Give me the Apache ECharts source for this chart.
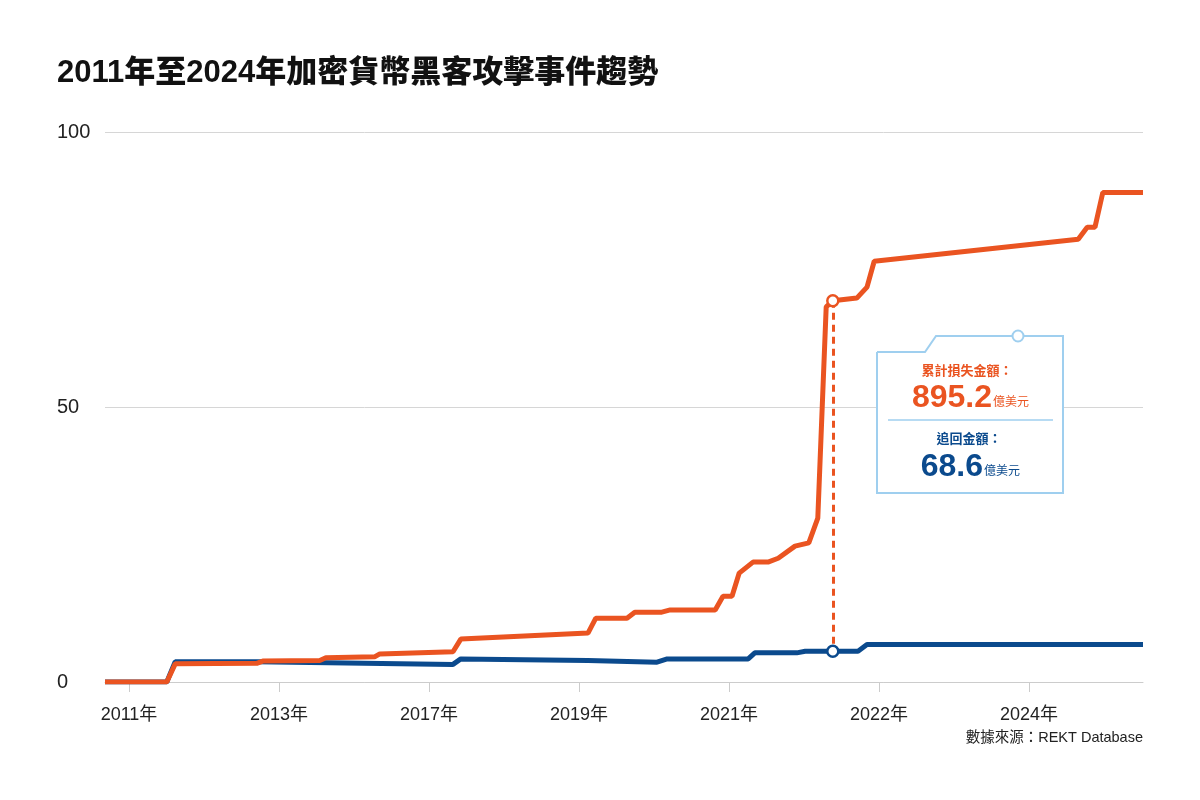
<!DOCTYPE html>
<html>
<head>
<meta charset="utf-8">
<script src="https://cdn.jsdelivr.net/npm/echarts@6/dist/echarts.min.js"></script>
<style>
html,body{margin:0;padding:0;background:#fff;}
#chart{width:1200px;height:800px;}
</style>
</head>
<body>
<div id="chart"></div>
<script>
// Event index axis (cumulative hacking events), tick labels placed at event positions
const tickPositions = [4, 29, 54, 79, 104, 129, 154];
const tickLabels = ['2011年', '2013年', '2017年', '2019年', '2021年', '2022年', '2024年'];

// Cumulative stolen amount (十億美元) at [event index, value]
const lossIndex = [0, 10.3, 11.7, 25.3, 26.3, 35.8, 36.8, 45, 45.8, 58, 59.3, 80.5, 81.8, 87, 88.3, 92.8, 94.2, 101.7, 103, 104.5, 105.7, 108, 110.5, 112.2, 115, 117.3, 118.8, 120.2, 121.3, 125.3, 127, 128.2, 162.2, 163.7, 165, 166.3, 173];
const lossValues = [0, 0, 3.3, 3.4, 3.8, 3.9, 4.4, 4.6, 5.1, 5.5, 7.8, 8.9, 11.6, 11.6, 12.7, 12.7, 13.1, 13.1, 15.6, 15.6, 19.8, 21.8, 21.8, 22.5, 24.7, 25.3, 29.8, 68.2, 69.3, 69.8, 71.8, 76.5, 80.5, 82.7, 82.7, 89, 89];

// Cumulative recovered amount (十億美元)
const recIndex = [0, 10.3, 11.7, 25.3, 58, 59.3, 80.5, 92, 93.7, 107.2, 108.3, 115.3, 116.7, 125.5, 127, 173];
const recValues = [0, 0, 3.7, 3.7, 3.2, 4.2, 3.9, 3.6, 4.2, 4.2, 5.3, 5.3, 5.6, 5.6, 6.8, 6.8];

// Highlighted point
const highlightIndex = 121.3;
const highlightLoss = 69.3;
const highlightRec = 5.6;

// Annotation texts
const totalLossText = '895.2';
const totalRecText = '68.6';

const ORANGE = '#EA5421';
const BLUE = '#0B4A8D';
const LIGHT = '#9FCFEF';
const FONT = "'Liberation Sans', 'Noto Sans CJK TC', sans-serif";

const lossData = lossIndex.map((x, i) => [x, lossValues[i]]);
const recData = recIndex.map((x, i) => [x, recValues[i]]);

const chart = echarts.init(document.getElementById('chart'));
chart.setOption({
  animation: false,
  backgroundColor: '#fff',
  grid: { left: 105, right: 57, top: 132, bottom: 118 },
  xAxis: {
    type: 'value',
    min: 0,
    max: 173,
    splitLine: { show: false },
    axisLine: { show: true, lineStyle: { color: '#cccccc', width: 1 } },
    axisTick: { show: true, customValues: tickPositions, length: 10, lineStyle: { color: '#cccccc' } },
    axisLabel: {
      customValues: tickPositions,
      formatter: v => tickLabels[tickPositions.indexOf(v)] || '',
      fontSize: 18,
      color: '#222',
      margin: 24,
      fontFamily: FONT
    }
  },
  yAxis: {
    type: 'value',
    min: 0,
    max: 100,
    interval: 50,
    axisLine: { show: false },
    axisTick: { show: false },
    splitLine: { lineStyle: { color: '#d6d6d6', width: 1 } },
    axisLabel: { fontSize: 20, color: '#222', align: 'left', margin: 48, fontFamily: FONT }
  },
  series: [
    {
      name: '追回金額',
      type: 'line',
      data: recData,
      showSymbol: false,
      silent: true,
      lineStyle: { color: BLUE, width: 5 },
      z: 2
    },
    {
      name: '累計損失金額',
      type: 'line',
      data: lossData,
      showSymbol: false,
      silent: true,
      lineStyle: { color: ORANGE, width: 5 },
      z: 3,
      markLine: {
        silent: true,
        symbol: 'none',
        lineStyle: { color: ORANGE, width: 3, type: [7, 5] },
        label: { show: false },
        data: [[{ coord: [highlightIndex, highlightLoss] }, { coord: [highlightIndex, highlightRec] }]]
      }
    },
    {
      type: 'scatter',
      silent: true,
      data: [[highlightIndex, highlightLoss]],
      symbolSize: 11,
      itemStyle: { color: '#ffffff', borderColor: ORANGE, borderWidth: 2.5, opacity: 1 },
      z: 5
    },
    {
      type: 'scatter',
      silent: true,
      data: [[highlightIndex, highlightRec]],
      symbolSize: 11,
      itemStyle: { color: '#ffffff', borderColor: BLUE, borderWidth: 2.5, opacity: 1 },
      z: 5
    }
  ],
  graphic: [
    {
      type: 'text', left: 57, top: 58,
      style: { text: '2011年至2024年加密貨幣黑客攻擊事件趨勢', fontSize: 31, fontWeight: 900, fill: '#111', fontFamily: FONT }
    },
    {
      type: 'text', right: 57, top: 731,
      style: { text: '數據來源：REKT Database', fontSize: 14.5, fill: '#222', fontFamily: FONT }
    },
    {
      type: 'polyline', z: 10,
      shape: { points: [[877, 352], [925, 352], [936, 336], [1063, 336], [1063, 493], [877, 493], [877, 352]] },
      style: { stroke: LIGHT, lineWidth: 2, fill: '#fff' }
    },
    {
      type: 'circle', z: 11,
      shape: { cx: 1018, cy: 336, r: 5.5 },
      style: { stroke: LIGHT, lineWidth: 2, fill: '#fff' }
    },
    {
      type: 'line', z: 11,
      shape: { x1: 888, y1: 420, x2: 1053, y2: 420 },
      style: { stroke: LIGHT, lineWidth: 1.5 }
    },
    {
      type: 'text', z: 11, x: 967, y: 371,
      style: { text: '累計損失金額：', fontSize: 13, fontWeight: 'bold', fill: ORANGE, align: 'center', verticalAlign: 'middle', fontFamily: FONT }
    },
    {
      type: 'text', z: 11, x: 992, y: 398,
      style: { text: totalLossText, fontSize: 32, fontWeight: 'bold', fill: ORANGE, align: 'right', verticalAlign: 'middle', fontFamily: FONT }
    },
    {
      type: 'text', z: 11, x: 993, y: 403,
      style: { text: '億美元', fontSize: 12, fill: ORANGE, align: 'left', verticalAlign: 'middle', fontFamily: FONT }
    },
    {
      type: 'text', z: 11, x: 969, y: 439,
      style: { text: '追回金額：', fontSize: 13, fontWeight: 'bold', fill: BLUE, align: 'center', verticalAlign: 'middle', fontFamily: FONT }
    },
    {
      type: 'text', z: 11, x: 983, y: 467,
      style: { text: totalRecText, fontSize: 32, fontWeight: 'bold', fill: BLUE, align: 'right', verticalAlign: 'middle', fontFamily: FONT }
    },
    {
      type: 'text', z: 11, x: 984, y: 472,
      style: { text: '億美元', fontSize: 12, fill: BLUE, align: 'left', verticalAlign: 'middle', fontFamily: FONT }
    }
  ]
});
</script>
</body>
</html>
